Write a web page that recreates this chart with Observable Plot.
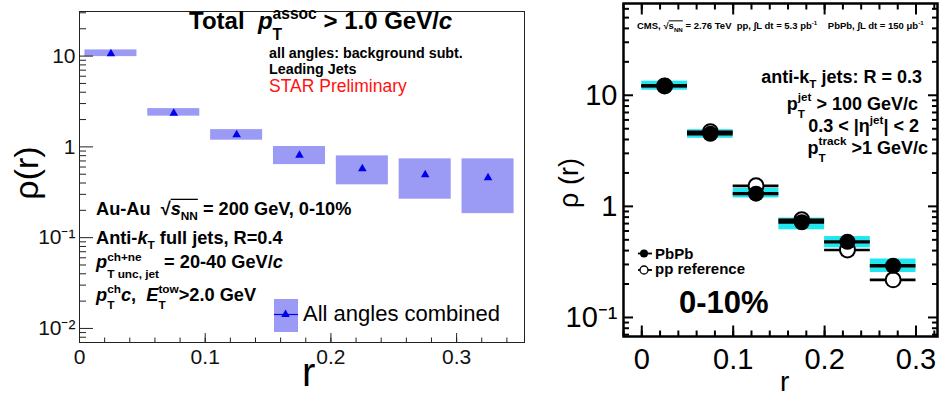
<!DOCTYPE html>
<html><head><meta charset="utf-8">
<script src="https://cdn.jsdelivr.net/npm/d3@7"></script>
<script src="https://cdn.jsdelivr.net/npm/@observablehq/plot@0.6"></script>
<style>
html,body{margin:0;padding:0;background:#fff;}
#wrap{position:relative;width:940px;height:397px;overflow:hidden;background:#fff;}
#wrap svg{position:absolute;top:0;}
</style></head><body><div id="wrap"></div>
<script>
// ---------- Left panel (STAR) data ----------
const starR = [0.025, 0.075, 0.125, 0.175, 0.225, 0.275, 0.325];
const starRho = [10.6, 2.35, 1.36, 0.81, 0.573, 0.492, 0.456];
const starSysLo = [9.87, 2.18, 1.185, 0.638, 0.382, 0.265, 0.184];
const starSysHi = [11.7, 2.64, 1.55, 1.01, 0.796, 0.738, 0.738];
const starYTicks = [0.01, 0.1, 1, 10];
const starYLabels = ["10⁻²", "10⁻¹", "1", "10"];
const starXTicks = [0, 0.1, 0.2, 0.3];
const starXLabels = ["0", "0.1", "0.2", "0.3"];

// ---------- Right panel (CMS) data ----------
const cmsBinLo = [0, 0.05, 0.1, 0.15, 0.2, 0.25];
const cmsBinHi = [0.05, 0.1, 0.15, 0.2, 0.25, 0.3];
const cmsPbPb = [12.2, 4.5, 1.30, 0.72, 0.48, 0.292];
const cmsPP = [12.1, 4.7, 1.53, 0.757, 0.405, 0.218];
const cmsSysLo = [11.1, 4.1, 1.19, 0.615, 0.423, 0.254];
const cmsSysHi = [13.4, 4.9, 1.45, 0.784, 0.535, 0.336];
const cmsYTicks = [0.1, 1, 10];
const cmsYLabels = ["10⁻¹", "1", "10"];
const cmsXTicks = [0, 0.1, 0.2, 0.3];
const cmsXLabels = ["0", "0.1", "0.2", "0.3"];

const FONT = "'Liberation Sans', Arial, Helvetica, sans-serif";
const BOX = "#9b9bf5", TRI = "#0000ee", CYAN = "#22e6ef";

const starData = starR.map((r, i) => ({r, v: starRho[i], lo: starSysLo[i], hi: starSysHi[i]}));
const cmsData = cmsBinLo.map((a, i) => ({a, b: cmsBinHi[i], c: (a + cmsBinHi[i]) / 2,
  pb: cmsPbPb[i], pp: cmsPP[i], lo: cmsSysLo[i], hi: cmsSysHi[i]}));

function logMinor(lo, hi) {
  const out = [];
  for (let e = -4; e <= 3; e++) for (let m = 2; m <= 9; m++) {
    const v = +(m * Math.pow(10, e)).toPrecision(6);
    if (v >= lo && v <= hi) out.push(v);
  }
  return out;
}
function linMinor(lo, hi, step) {
  const out = [];
  for (let k = Math.ceil(lo / step - 1e-9); k * step <= hi + 1e-9; k++) out.push(+(k * step).toFixed(4));
  return out;
}

const wrap = document.getElementById("wrap");
const HW = 0.0207; // half width of STAR boxes

const starYDom = [0.007, 31], starXDom = [0, 0.354];
const left = Plot.plot({
  width: 535, height: 397,
  marginLeft: 79, marginRight: 11, marginTop: 11, marginBottom: 55,
  style: {fontFamily: FONT, background: "white"},
  x: {domain: starXDom, label: null},
  y: {type: "log", domain: starYDom, label: null},
  marks: [
    Plot.rect(starData, {x1: d => d.r - HW, x2: d => d.r + HW, y1: "lo", y2: "hi", fill: BOX}),
    Plot.dot(starData, {x: "r", y: "v", symbol: "triangle", r: 3.2, fill: TRI}),
    Plot.frame({stroke: "#222", strokeWidth: 1}),
    Plot.axisY(starYTicks, {anchor: "left", tickSize: -14, tickFormat: () => "", label: null, stroke: "#222"}),
    Plot.axisY(logMinor(...starYDom), {anchor: "left", tickSize: -7, tickFormat: () => "", label: null, stroke: "#222"}),
    Plot.axisY(starYTicks, {anchor: "left", tickSize: 0, tickPadding: 4, fontSize: 21, label: null, fill: "#111",
      tickFormat: d => starYLabels[starYTicks.indexOf(d)]}),
    Plot.axisX(starXTicks, {anchor: "bottom", tickSize: -9, tickFormat: () => "", label: null, stroke: "#222"}),
    Plot.axisX(linMinor(0, 0.35, 0.02), {anchor: "bottom", tickSize: -4.5, tickFormat: () => "", label: null, stroke: "#222"}),
    Plot.axisX(starXTicks, {anchor: "bottom", tickSize: 0, tickPadding: 7, fontSize: 21, label: null, fill: "#111",
      tickFormat: d => starXLabels[starXTicks.indexOf(d)]})
  ]
});
left.style.left = "0px";
wrap.appendChild(left);

const cmsYDom = [0.0674, 67], cmsXDom = [-0.02, 0.3235];
const right = Plot.plot({
  width: 405, height: 397,
  marginLeft: 88, marginRight: 3, marginTop: 3, marginBottom: 61,
  style: {fontFamily: FONT, background: "white"},
  x: {domain: cmsXDom, label: null},
  y: {type: "log", domain: cmsYDom, label: null},
  marks: [
    Plot.rect(cmsData, {x1: "a", x2: "b", y1: "lo", y2: "hi", fill: CYAN}),
    Plot.ruleY(cmsData, {x1: "a", x2: "b", y: "pp", stroke: "black", strokeWidth: 2.6}),
    Plot.dot(cmsData, {x: "c", y: "pp", r: 7.5, fill: "white", stroke: "black", strokeWidth: 2}),
    Plot.ruleY(cmsData, {x1: "a", x2: "b", y: "pb", stroke: "black", strokeWidth: 3.3}),
    Plot.dot(cmsData, {x: "c", y: "pb", r: 8, fill: "black"}),
    Plot.frame({stroke: "black", strokeWidth: 2.5}),
    ...["left", "right"].flatMap(anchor => [
      Plot.axisY(cmsYTicks, {anchor, tickSize: -10, tickFormat: () => "", label: null, strokeWidth: 2}),
      Plot.axisY(logMinor(...cmsYDom), {anchor, tickSize: -6, tickFormat: () => "", label: null, strokeWidth: 2})
    ]),
    ...["bottom", "top"].flatMap(anchor => [
      Plot.axisX(cmsXTicks, {anchor, tickSize: -10.5, tickFormat: () => "", label: null, strokeWidth: 2}),
      Plot.axisX(linMinor(-0.02, 0.3235, 0.02), {anchor, tickSize: -5.5, tickFormat: () => "", label: null, strokeWidth: 2})
    ]),
    Plot.axisY(cmsYTicks, {anchor: "left", tickSize: 0, tickPadding: 6, fontSize: 29, label: null,
      tickFormat: d => cmsYLabels[cmsYTicks.indexOf(d)]}),
    Plot.axisX(cmsXTicks, {anchor: "bottom", tickSize: 0, tickPadding: 12, fontSize: 29, label: null,
      tickFormat: d => cmsXLabels[cmsXTicks.indexOf(d)]})
  ]
});
right.style.left = "535px";
wrap.appendChild(right);

// ---------- rich text helper ----------
function rich(svg, x, y, parts, o = {}) {
  const size = o.size || 16, fill = o.fill || "black";
  const g = d3.select(svg).append("g")
    .attr("font-family", FONT).attr("font-size", size).attr("text-anchor", "start")
    .attr("font-weight", o.weight || "bold").attr("fill", fill);
  let cx = 0, ovStart = 0;
  const add = (txt, dy, fs, italic) => {
    const t = g.append("text").attr("x", cx).attr("y", dy).attr("text-anchor", "start")
      .style("white-space", "pre").text(txt);
    if (fs) t.attr("font-size", fs);
    if (italic) t.attr("font-style", "italic");
    return t.node().getComputedTextLength();
  };
  for (const p of parts) {
    if (typeof p === "string") cx += add(p, 0);
    else if (p.i) cx += add(p.i, 0, null, true);
    else if (p.ov === "start") ovStart = cx;
    else if (p.ov === "end") {
      g.append("line").attr("x1", ovStart).attr("x2", cx)
        .attr("y1", -size * 0.86).attr("y2", -size * 0.86)
        .attr("stroke", fill).attr("stroke-width", Math.max(1, size * 0.07));
    } else {
      const fs = size * (p.scale || 0.65);
      let w = 0;
      if (p.sup) w = Math.max(w, add(p.sup, -size * (p.up ?? 0.42), fs, p.supI));
      if (p.sub) w = Math.max(w, add(p.sub, size * (p.down ?? 0.32), fs, p.subI));
      cx += w;
    }
  }
  const x0 = o.anchor === "end" ? x - cx : x;
  g.attr("transform", `translate(${x0},${y})`);
  return g;
}
function plainText(svg, x, y, txt, o = {}) {
  const t = d3.select(svg).append("text")
    .attr("font-family", FONT).attr("font-size", o.size || 16)
    .attr("font-weight", o.weight || "normal").attr("fill", o.fill || "black")
    .attr("text-anchor", o.anchor || "start")
    .attr("transform", `translate(${x},${y})` + (o.rotate ? ` rotate(${o.rotate})` : ""))
    .text(txt);
  return t;
}

// ---------- left panel annotations ----------
rich(left, 189, 29, ["Total  ", {i: "p"}, {sup: "assoc", sub: "T", up: 0.42, down: 0.46}, " > 1.0 GeV/", {i: "c"}], {size: 24});
rich(left, 269, 58, ["all angles: background subt."], {size: 14.3});
rich(left, 269, 74, ["Leading Jets"], {size: 14.3});
rich(left, 269, 92, ["STAR Preliminary"], {size: 17.5, weight: "normal", fill: "#ff1010"});
rich(left, 96, 215, ["Au-Au  √", {ov: "start"}, {i: "s"}, {sub: "NN", down: 0.3}, {ov: "end"}, " = 200 GeV, 0-10%"], {size: 18.2});
rich(left, 96, 244, ["Anti-", {i: "k"}, {sub: "T", down: 0.3}, " full jets, R=0.4"], {size: 18.2});
rich(left, 96, 267.5, [{i: "p"}, {sup: "ch+ne", sub: "T unc, jet", up: 0.38, down: 0.55}, " = 20-40 GeV/", {i: "c"}], {size: 18.2});
rich(left, 96, 301, [{i: "p"}, {sup: "ch", sub: "T", up: 0.42, down: 0.45}, {i: "c"}, ",  ", {i: "E"}, {sup: "tow", sub: "T", up: 0.42, down: 0.45}, ">2.0 GeV"], {size: 18.2});
// legend
{
  const g = d3.select(left).append("g");
  g.append("rect").attr("x", 274).attr("y", 299).attr("width", 24).attr("height", 33).attr("fill", BOX);
  g.append("line").attr("x1", 274).attr("x2", 298).attr("y1", 314.5).attr("y2", 314.5).attr("stroke", TRI).attr("stroke-width", 1.2);
  g.append("path").attr("d", d3.symbol(d3.symbolTriangle, 32)()).attr("transform", "translate(285.5,314.5)").attr("fill", TRI);
  plainText(left, 303, 321, "All angles combined", {size: 22});
}
plainText(left, 302, 386, "r", {size: 40});
plainText(left, 38, 173, "ρ(r)", {size: 34, rotate: -90, anchor: "middle"});

// ---------- right panel annotations (page x - 535) ----------
const R = 535;
rich(right, 637 - R, 29, ["CMS, √", {ov: "start"}, "s", {sub: "NN", down: 0.3}, {ov: "end"}, " = 2.76 TeV  pp, ∫L dt = 5.3 pb", {sup: "-1", up: 0.4},
  "    PbPb, ∫L dt = 150 μb", {sup: "-1", up: 0.4}], {size: 9.5});
rich(right, 922 - R, 83, ["anti-k", {sub: "T", down: 0.3}, " jets: R = 0.3"], {size: 18, anchor: "end"});
rich(right, 918 - R, 110, ["p", {sup: "jet", sub: "T", up: 0.5, down: 0.45}, " > 100 GeV/c"], {size: 18, anchor: "end"});
rich(right, 919 - R, 131.7, ["0.3 < |η", {sup: "jet", up: 0.45}, "| < 2"], {size: 18, anchor: "end"});
rich(right, 928 - R, 154, ["p", {sup: "track", sub: "T", up: 0.5, down: 0.45}, " >1 GeV/c"], {size: 18, anchor: "end"});
{
  const g = d3.select(right).append("g");
  g.append("line").attr("x1", 638 - R).attr("x2", 652 - R).attr("y1", 253.5).attr("y2", 253.5).attr("stroke", "black").attr("stroke-width", 1.8);
  g.append("circle").attr("cx", 644 - R).attr("cy", 253.5).attr("r", 4).attr("fill", "black");
  g.append("line").attr("x1", 638 - R).attr("x2", 652 - R).attr("y1", 270).attr("y2", 270).attr("stroke", "black").attr("stroke-width", 1.8);
  g.append("circle").attr("cx", 644 - R).attr("cy", 270).attr("r", 4).attr("fill", "white").attr("stroke", "black").attr("stroke-width", 1.3);
  plainText(right, 655 - R, 258.5, "PbPb", {size: 15, weight: "bold"});
  plainText(right, 655 - R, 274, "pp reference", {size: 15, weight: "bold"});
}
plainText(right, 679 - R, 313, "0-10%", {size: 31, weight: "bold"});
plainText(right, 780 - R, 391, "r", {size: 28});
plainText(right, 578 - R, 183, "ρ (r)", {size: 27, rotate: -90, anchor: "middle"});
</script></body></html>
